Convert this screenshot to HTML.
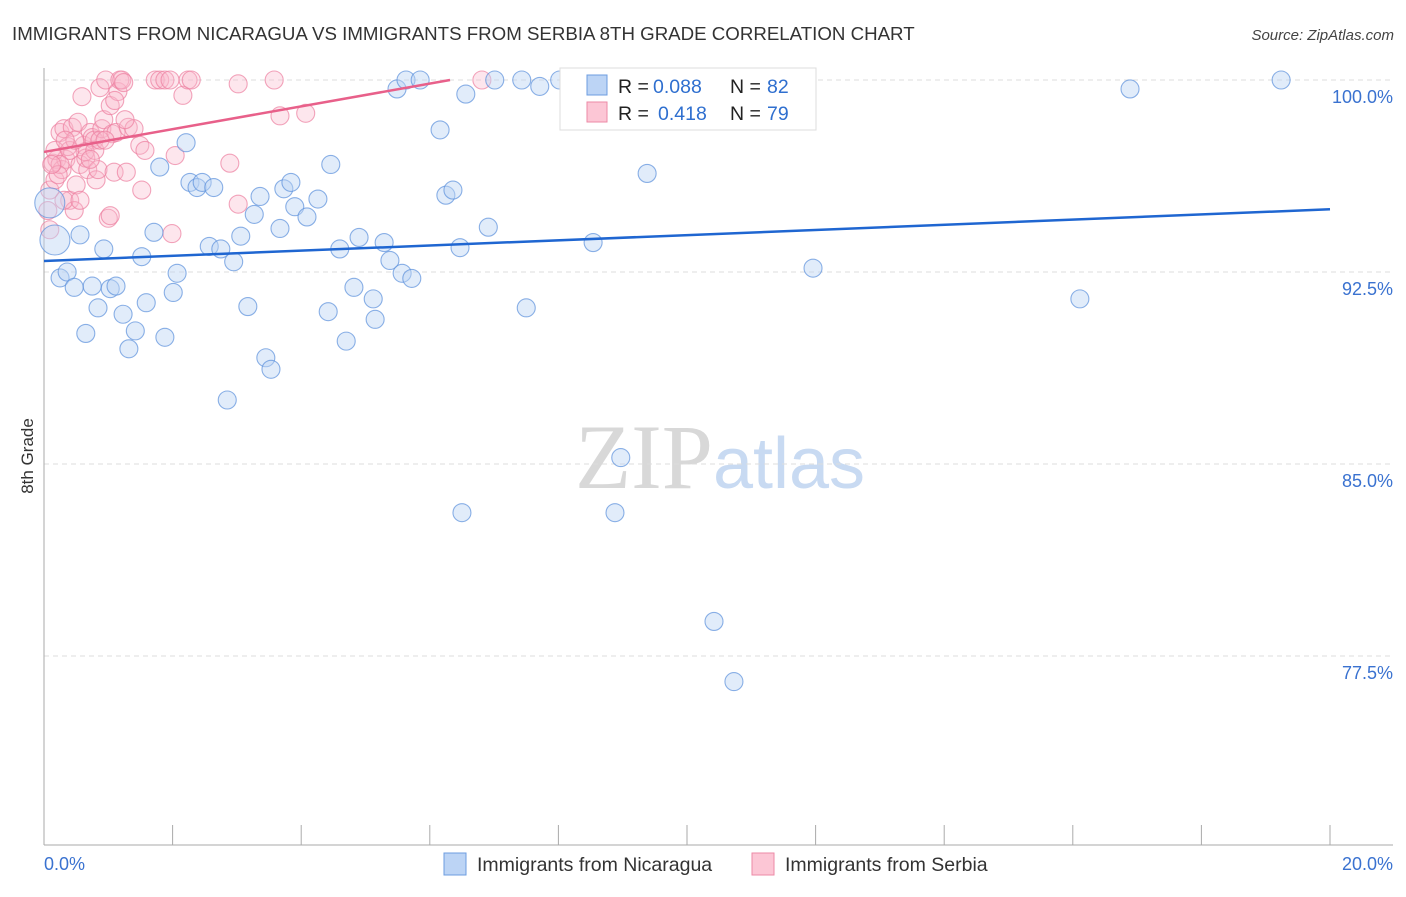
<!DOCTYPE html>
<html><head><meta charset="utf-8"><style>
body{margin:0;background:#fff;font-family:"Liberation Sans",sans-serif}
</style></head><body>
<svg id="chart" width="1406" height="892" xmlns="http://www.w3.org/2000/svg" font-family="Liberation Sans, sans-serif">
<text x="12" y="40" font-size="18.7" fill="#333">IMMIGRANTS FROM NICARAGUA VS IMMIGRANTS FROM SERBIA 8TH GRADE CORRELATION CHART</text>
<text x="1394" y="40" font-size="15" fill="#444" text-anchor="end" font-style="italic">Source: ZipAtlas.com</text>
<text transform="translate(33,456) rotate(-90)" font-size="17" fill="#333" text-anchor="middle">8th Grade</text>
<text x="720" y="488" font-size="92" text-anchor="middle"><tspan fill="#d8d8d8" font-family="Liberation Serif, serif">ZIP</tspan><tspan fill="#c8daf2" font-size="72">atlas</tspan></text>
<g id="grid"></g><g id="axes"></g><g id="pts"></g><g id="trend"></g>
<g>
<rect x="560" y="68" width="256" height="62" fill="#fff" stroke="#ddd"/>
<rect x="587" y="75" width="20" height="20" fill="#bcd4f5" stroke="#6d9de0"/>
<rect x="587" y="102" width="20" height="20" fill="#fcc6d5" stroke="#ec8aa6"/>
<text x="618" y="93" font-size="19.5" fill="#222">R =</text>
<text x="653" y="93" font-size="19.5" fill="#2f6fcf">0.088</text>
<text x="730" y="93" font-size="19.5" fill="#222">N =</text>
<text x="767" y="93" font-size="19.5" fill="#2f6fcf">82</text>
<text x="618" y="120" font-size="19.5" fill="#222">R =</text>
<text x="658" y="120" font-size="19.5" fill="#2f6fcf">0.418</text>
<text x="730" y="120" font-size="19.5" fill="#222">N =</text>
<text x="767" y="120" font-size="19.5" fill="#2f6fcf">79</text>
</g>
<g>
<rect x="444" y="853" width="22" height="22" fill="#bcd4f5" stroke="#6d9de0"/>
<text x="477" y="871" font-size="19.5" fill="#333">Immigrants from Nicaragua</text>
<rect x="752" y="853" width="22" height="22" fill="#fcc6d5" stroke="#ec8aa6"/>
<text x="785" y="871" font-size="19.5" fill="#333">Immigrants from Serbia</text>
</g>
</svg>
<script>
const yTicks=[100,92.5,85,77.5];
const yTickLabels=["100.0%","92.5%","85.0%","77.5%"];
const xTickLabels=["0.0%","20.0%"];
const blueX=[0.09,0.17,0.25,0.36,0.47,0.56,0.65,0.75,0.84,0.93,1.03,1.12,1.23,1.32,1.42,1.52,1.59,1.71,1.80,1.88,2.01,2.07,2.21,2.27,2.38,2.46,2.57,2.64,2.75,2.85,2.95,3.06,3.17,3.27,3.36,3.45,3.53,3.67,3.73,3.84,3.90,4.09,4.26,4.42,4.46,4.60,4.70,4.82,4.90,5.12,5.15,5.29,5.38,5.49,5.57,5.63,5.72,5.85,6.16,6.25,6.36,6.47,6.50,6.56,6.91,7.01,7.43,7.50,7.71,8.02,8.54,8.88,8.97,9.38,10.42,10.73,11.96,16.11,16.89,19.24];
const blueY=[95.2,93.75,92.27,92.5,91.9,93.95,90.1,91.95,91.1,93.4,91.85,91.95,90.85,89.5,90.2,93.1,91.3,94.05,96.6,89.95,91.7,92.45,97.55,96.0,95.8,96.0,93.5,95.8,93.4,87.5,92.9,93.9,91.15,94.75,95.45,89.15,88.7,94.2,95.75,96.0,95.05,94.65,95.35,90.95,96.7,93.4,89.8,91.9,93.85,91.45,90.65,93.65,92.95,99.65,92.45,100,92.25,100,98.05,95.5,95.7,93.45,83.1,99.45,94.25,100,100,91.1,99.75,100,93.65,83.1,85.25,96.35,78.85,76.5,92.65,91.45,99.65,100];
const pinkX=[0.06,0.09,0.14,0.17,0.2,0.25,0.28,0.31,0.34,0.37,0.4,0.44,0.47,0.5,0.53,0.56,0.59,0.62,0.65,0.68,0.72,0.75,0.78,0.81,0.84,0.87,0.9,0.93,0.96,1.0,1.03,1.06,1.09,1.12,1.15,1.18,1.21,1.24,1.28,1.31,1.4,1.49,1.52,1.57,1.73,1.8,1.88,1.96,2.04,1.99,2.16,2.24,2.29,2.89,3.02,3.02,3.58,3.67,4.07,6.81,0.09,0.17,0.31,0.64,0.79,1.1,0.4,0.25,1.03,1.26,0.87,0.72,0.48,0.33,0.22,0.12,0.56,0.95];
const pinkY=[94.9,95.7,96.75,96.1,96.9,97.95,96.5,98.1,96.9,97.4,95.3,98.15,94.9,95.9,98.35,96.7,99.35,97.45,96.95,96.5,97.95,97.75,97.65,96.1,96.5,99.7,98.1,98.45,100,94.6,99.0,97.9,96.4,97.95,99.55,100,100,99.9,96.4,98.15,98.1,97.45,95.7,97.25,100,100,100,100,97.05,94.0,99.4,100,100,96.75,99.85,95.15,100,98.6,98.7,100,94.15,97.25,95.3,97.2,97.25,99.2,97.25,96.7,94.7,98.45,97.65,96.9,97.65,97.65,96.3,96.7,95.3,97.65];
const blueTrend=[92.93,0.101]; // intercept, slope per %
const pinkTrend=[97.19,0.445];
const X=v=>44+v*64.3, Y=v=>80+(100-v)*25.6;
const NS="http://www.w3.org/2000/svg";
function mk(p,t,a){const e=document.createElementNS(NS,t);for(const k in a)e.setAttribute(k,a[k]);p.appendChild(e);return e;}
const grid=document.getElementById('grid'),axes=document.getElementById('axes'),pts=document.getElementById('pts'),tr=document.getElementById('trend');
yTicks.forEach((t,i)=>{
 const l=mk(grid,'line',{x1:44,x2:1393,y1:Y(t),y2:Y(t),stroke:'#ddd','stroke-dasharray':'5,4'});
 
 
 const tx=mk(axes,'text',{x:1393,y:Y(t)+23,'font-size':18,fill:'#3a72d0','text-anchor':'end'});
 tx.textContent=yTickLabels[i];
 
 
});
const ax=mk(axes,'line',{x1:44,x2:44,y1:68,y2:845,stroke:'#aaa'});


const bx=mk(axes,'line',{x1:44,x2:1393,y1:845,y2:845,stroke:'#aaa'});


for(let i=0;i<=10;i++){
 const t=mk(axes,'line',{x1:X(i*2),x2:X(i*2),y1:825,y2:845,stroke:'#aaa'});
 
 
}
[[0,'start',44],[20,'end',1393]].forEach((d,i)=>{
 const t=mk(axes,'text',{x:d[2],y:870,'font-size':18,fill:'#3a72d0','text-anchor':d[1]});
 t.textContent=xTickLabels[i];
 
 
});
function series(xs,ys,fill,stroke,name,op){
 xs.forEach((x,i)=>{
  const r=(name==='nicaragua-point'&&i<2)?15:9;
  const c=mk(pts,'circle',{cx:X(x),cy:Y(ys[i]),r:r,fill:fill,'fill-opacity':op,stroke:stroke,'stroke-width':1.1,'stroke-opacity':0.7});
  
  
 });
}
series(pinkX,pinkY,'#f9b8cb','#ec7fa0','serbia-point',0.35);
series(blueX,blueY,'#bcd4f5','#5b90dc','nicaragua-point',0.45);
const bl=mk(tr,'line',{x1:X(0),y1:Y(blueTrend[0]),x2:X(20),y2:Y(blueTrend[0]+20*blueTrend[1]),stroke:'#1f66d1','stroke-width':2.5});


const pe=(100-pinkTrend[0])/pinkTrend[1];
const pl=mk(tr,'line',{x1:X(0),y1:Y(pinkTrend[0]),x2:X(pe),y2:Y(100),stroke:'#e8608a','stroke-width':2.5});


</script>
</body></html>
